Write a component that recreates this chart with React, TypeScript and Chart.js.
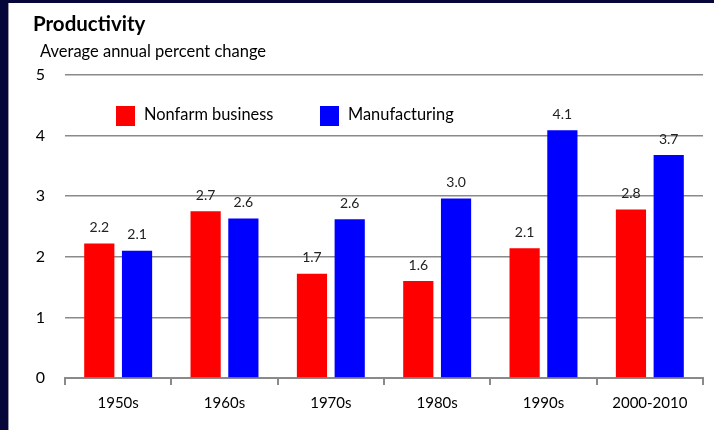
import React, { useEffect, useRef } from "react";
import { Chart, registerables } from "chart.js";

Chart.register(...registerables);

const categories = ["1950s", "1960s", "1970s", "1980s", "1990s", "2000-2010"];
const nonfarm = [2.22, 2.75, 1.72, 1.6, 2.14, 2.78];
const manufacturing = [2.1, 2.63, 2.62, 2.96, 4.09, 3.68];
const nonfarmLabels = ["2.2", "2.7", "1.7", "1.6", "2.1", "2.8"];
const manufacturingLabels = ["2.1", "2.6", "2.6", "3.0", "4.1", "3.7"];
const seriesNames = ["Nonfarm business", "Manufacturing"];
const yTicks = [0, 1, 2, 3, 4, 5];

const FONT = "Lato, 'Open Sans', sans-serif";

const framePlugin = {
  id: "frame",
  beforeDraw(chart: any) {
    const ctx = chart.ctx;
    ctx.save();
    ctx.fillStyle = "#ffffff";
    ctx.fillRect(0, 0, chart.width, chart.height);
    ctx.fillStyle = "#06063a";
    ctx.fillRect(0, 0, 8, chart.height);
    ctx.fillRect(0, 0, chart.width, 3);
    ctx.fillStyle = "#9a9aa8";
    ctx.fillRect(8, 3, 1, chart.height - 3);
    ctx.restore();
  },
  afterDraw(chart: any) {
    const ctx = chart.ctx;
    const area = chart.chartArea;
    ctx.save();
    // title
    ctx.fillStyle = "#000";
    ctx.textBaseline = "alphabetic";
    ctx.textAlign = "left";
    ctx.font = `bold 20.5px ${FONT}`;
    ctx.fillText("Productivity", 33, 31);
    ctx.font = `16.5px ${FONT}`;
    ctx.fillText("Average annual percent change", 40, 57);
    // legend
    const colors = ["#ff0000", "#0000ff"];
    const boxX = [area.left + 51, area.left + 255];
    ctx.font = `16.4px ${FONT}`;
    ctx.textBaseline = "middle";
    seriesNames.forEach((name, i) => {
      ctx.fillStyle = colors[i];
      ctx.fillRect(boxX[i], area.top + 31, 19, 20);
      ctx.fillStyle = "#000";
      ctx.fillText(name, boxX[i] + 28, area.top + 40);
    });
    // data labels
    ctx.font = `14px ${FONT}`;
    ctx.textAlign = "center";
    ctx.textBaseline = "bottom";
    ctx.fillStyle = "#222";
    const labelSets = [nonfarmLabels, manufacturingLabels];
    chart.data.datasets.forEach((ds: any, di: number) => {
      const meta = chart.getDatasetMeta(di);
      meta.data.forEach((bar: any, i: number) => {
        ctx.fillText(labelSets[di][i], bar.x, bar.y - 9);
      });
    });
    ctx.restore();
  },
};

export default function App() {
  const ref = useRef<HTMLCanvasElement>(null);
  useEffect(() => {
    document.body.style.margin = "0";
    const chart = new Chart(ref.current!, {
      type: "bar",
      data: {
        labels: categories,
        datasets: [
          { label: seriesNames[0], data: nonfarm, backgroundColor: "#ff0000" },
          { label: seriesNames[1], data: manufacturing, backgroundColor: "#0000ff" },
        ],
      },
      options: {
        animation: false,
        responsive: false,
        maintainAspectRatio: false,
        datasets: { bar: { categoryPercentage: 0.71, barPercentage: 0.8 } },
        layout: { padding: { top: 75, right: 11, left: 0, bottom: 0 } },
        plugins: { legend: { display: false }, title: { display: false }, tooltip: { enabled: false } },
        scales: {
          x: {
            offset: true,
            grid: { offset: true, drawOnChartArea: false, drawTicks: true, tickLength: 7, color: "#8a8a8a", lineWidth: 2 },
            border: { display: true, color: "#8a8a8a", width: 2 },
            ticks: { color: "#000", font: { family: FONT, size: 15 }, padding: 9 },
            afterFit: (s: any) => { s.height = 52; },
          },
          y: {
            min: 0,
            max: 5,
            afterBuildTicks: (s: any) => { s.ticks = yTicks.map((v) => ({ value: v })); },
            grid: { drawTicks: false, color: "#8a8a8a", lineWidth: 1.5 },
            border: { display: false },
            ticks: { color: "#000", font: { family: FONT, size: 16 }, padding: 20 },
            afterFit: (s: any) => { s.width = 65; },
          },
        },
      },
      plugins: [framePlugin],
    });
    return () => chart.destroy();
  }, []);
  return (
    <div style={{ position: "fixed", left: 0, top: 0, width: 714, height: 430 }}>
      <canvas ref={ref} width={714} height={430} style={{ display: "block" }} />
    </div>
  );
}
